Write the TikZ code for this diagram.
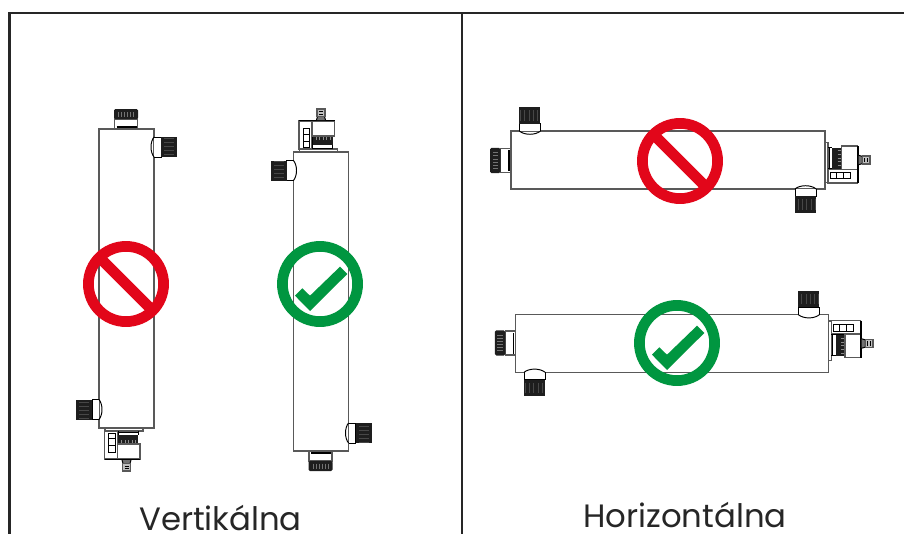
\documentclass[tikz,border=0pt]{standalone}
\usepackage{fontspec}
\setmainfont{Poppins}
\usetikzlibrary{calc}
\definecolor{stopred}{RGB}{226,6,26}
\definecolor{okgreen}{RGB}{0,150,64}
\definecolor{knurl}{RGB}{30,30,30}
\tikzset{
    frameline/.style={black!85,line width=1.45pt},
    outline/.style={black!65,line width=0.8pt},
    thinline/.style={black,line width=0.55pt},
    thread/.style={black!72,line width=0.25pt},
    caption/.style={inner sep=0pt,anchor=base,font=\fontsize{18.4pt}{20pt}\selectfont,text=black!85},
    pics/port/.style={code={
        % threaded stub, drawn pointing along +x from the wall
        \draw [thinline,fill=white] (0,-10) -- (7,-10) -- (7,10) -- (0,10);
        \draw [thinline] (0,10) .. controls (-4,5) and (-4,-5) .. (0,-10);
        \fill [knurl] (7,-10) rectangle (23,10);
        \foreach \ypos in {-7,-3,...,9}
            \draw [thread] (10,\ypos) -- (20,\ypos);
    }},
    pics/reactor/.style={code={
        \draw [outline,fill=white] (-27.5,-149.5) rectangle (27.5,149.5);
        % cap on the far end
        \draw [outline,fill=white] (-12,149.5) rectangle (11,159.5);
        \fill [knurl,rounded corners=0.8] (-12.5,159.5) rectangle (11.5,169.5);
        \foreach \xpos in {-8,-5,...,7}
            \draw [black!55,line width=0.4pt] (\xpos,162) -- (\xpos,167);
        \draw [line width=0.9pt] (-10,151.5) -- (10,151.5);
        % the two side ports
        \pic [transform shape] at (27.5,131.5) {port};
        \pic [transform shape,rotate=180] at (-27.5,-131) {port};
        % head on the near end
        \draw [outline,fill=white] (-21.5,-149.5) rectangle (16.5,-152.5);
        \draw [outline,fill=white] (-22,-152.5) rectangle (-9,-180.5);
        \draw [thinline,fill=white] (-18,-154.5) rectangle (-11.5,-173.5);
        \draw [thinline] (-18,-160) -- (-11.5,-160) (-18,-167) -- (-11.5,-167);
        \draw [thinline] (-8.5,-153.5) -- (11.5,-153.5);
        \draw [thinline] (-8.5,-152.5) -- (-8.5,-165.5) (11.5,-152.5) -- (11.5,-156.5);
        \fill [knurl] (-8.5,-156.5) rectangle (11.5,-165.5);
        \foreach \xpos in {-5,-1.5,...,9}
            \draw [black!45,line width=0.3pt] (\xpos,-161.5) -- (\xpos,-165.5);
        \draw [outline,fill=white] (-9,-165.5) -- (13.5,-165.5) -- (13.5,-180.5) -- (-9,-180.5) -- cycle;
        \draw [line width=1.1pt] (-22,-181) -- (13.5,-181);
        \draw [thinline,fill=black!55] (-4.5,-181.5) -- (-3.5,-185) -- (3.5,-185) -- (4.5,-181.5);
        \draw [outline,fill=black!25] (-4,-185) rectangle (4,-192.5);
        \draw [thinline] (-2,-187.5) -- (2,-187.5) (-2,-190) -- (2,-190);
    }},
}
\newcommand{\stopsign}[1]{
    \draw [stopred,line width=6.1pt] (#1) circle (37.6);
    \draw [stopred,line width=6.1pt] ($(#1)+(-26,26)$) -- ($(#1)+(26,-26)$);
}
\newcommand{\oksign}[1]{
    \draw [okgreen,line width=6.1pt] (#1) circle (37.6);
    \fill [okgreen] ($(#1)+(-25,-11.7)$) -- ($(#1)+(-17.7,-4.3)$) -- ($(#1)+(-10,-11.7)$) --
        ($(#1)+(20,17.3)$) -- ($(#1)+(27.3,10)$) -- ($(#1)+(-10,-27)$) -- cycle;
}
\begin{document}
\begin{tikzpicture}[x=0.02cm,y=0.02cm]
    \useasboundingbox (0,0) rectangle (904,-534);
    % panel frame
    \draw [frameline] (9.5,-534) -- (9.5,-13) -- (904,-13);
    \draw [frameline] (462,-534) -- (462,-13);
    % vertical pair
    \pic at (126.5,-278.5) {reactor};
    \pic [yscale=-1] at (321,-301.5) {reactor};
    % horizontal pair
    \pic [rotate=90,scale=1.05] at (668,-160) {reactor};
    \pic [yscale=-1,rotate=90,scale=1.045] at (672,-343.5) {reactor};
    % signs
    \stopsign{126,-284}
    \oksign{320,-284}
    \stopsign{680,-161}
    \oksign{677,-343}
    % captions
    \node [caption] (vertical) at (220.5,-530.5) {Vertikálna};
    \node [caption] (horizontal) at (685,-527.5) {Horizontálna};
\end{tikzpicture}
\end{document}
